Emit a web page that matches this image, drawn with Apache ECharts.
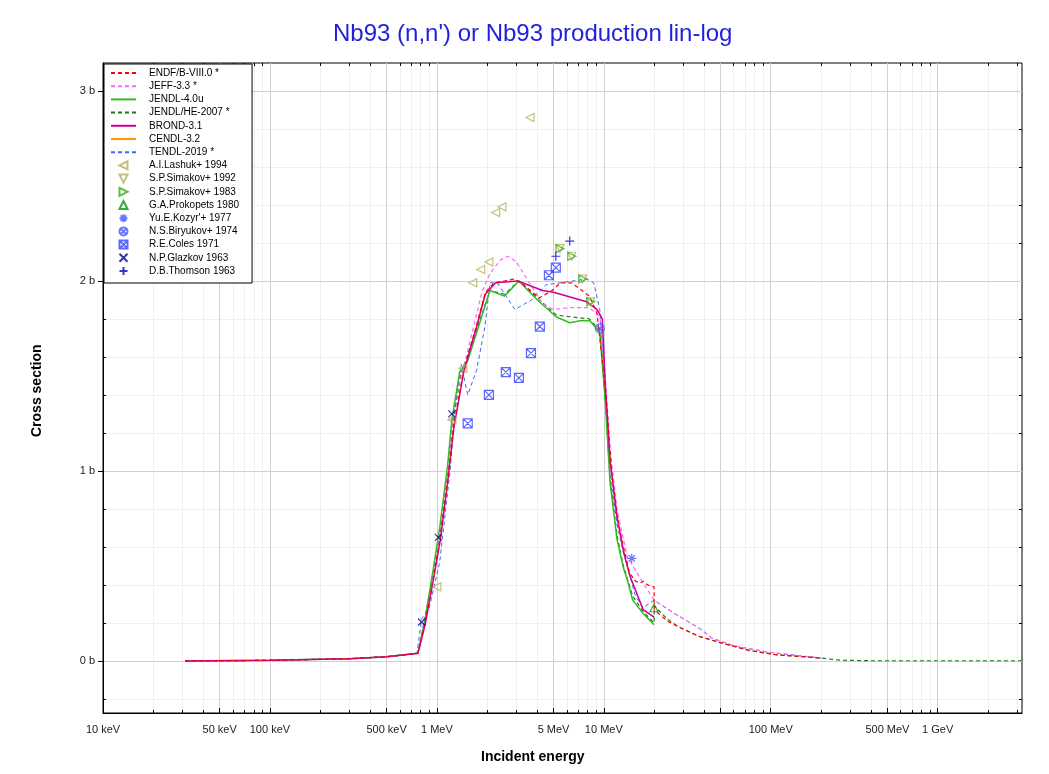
<!DOCTYPE html>
<html>
<head>
<meta charset="utf-8">
<title>Nb93 (n,n') or Nb93 production lin-log</title>
<script src="https://cdn.jsdelivr.net/npm/echarts@6/dist/echarts.min.js"></script>
<style>
  html, body { margin: 0; padding: 0; background: #fff; }
  #main { width: 1049px; height: 774px; }
</style>
</head>
<body>
<div id="main"></div>
<script>
// energies in MeV, cross sections in barn
const endf = [[0.031,0],[0.1,0.003],[0.3,0.012],[0.5,0.022],[0.77,0.04],[0.85,0.2],[0.95,0.43],[1.05,0.65],[1.16,0.95],[1.26,1.23],[1.44,1.52],[1.57,1.64],[1.72,1.76],[1.95,1.94],[2.2,1.99],[2.55,2.0],[2.9,2.01],[3.3,1.98],[4.1,1.91],[4.9,1.95],[5.5,1.99],[6.4,1.99],[7.4,1.95],[8.2,1.92],[9.1,1.83],[9.9,1.55],[10.5,1.3],[11.1,1.0],[12.0,0.76],[13.1,0.6],[14.3,0.46],[15.5,0.42],[16.5,0.41],[17.2,0.42],[18.3,0.4],[20,0.39],[20.05,0.27],[24,0.21],[28,0.18],[37,0.13],[50,0.097],[75,0.055],[110,0.032],[150,0.024],[200,0.015]];
const jeff = [[0.031,0],[0.1,0.003],[0.3,0.012],[0.5,0.022],[0.77,0.04],[0.85,0.24],[0.99,0.53],[1.16,1.0],[1.28,1.37],[1.47,1.57],[1.64,1.74],[1.86,1.94],[2.08,2.04],[2.4,2.11],[2.66,2.13],[3.0,2.1],[3.7,1.97],[4.3,1.88],[5.0,1.85],[6.5,1.86],[8.2,1.86],[9.5,1.81],[10.2,1.5],[10.9,1.12],[12.0,0.8],[13.8,0.55],[16.4,0.44],[20,0.32],[26.5,0.25],[37.6,0.17],[44.4,0.12],[60,0.08],[95,0.047],[140,0.03],[200,0.015]];
const jendl40 = [[0.031,0],[0.1,0.003],[0.3,0.012],[0.5,0.022],[0.77,0.04],[0.85,0.22],[0.95,0.48],[1.04,0.7],[1.16,1.03],[1.23,1.27],[1.37,1.52],[1.53,1.58],[2.08,1.95],[2.54,1.92],[3.1,2.0],[4.0,1.9],[5.2,1.81],[6.25,1.78],[7.2,1.79],[8.24,1.79],[9.46,1.73],[10.2,1.37],[10.9,0.94],[12.0,0.64],[13.1,0.49],[13.8,0.43],[14.9,0.32],[17.2,0.25],[20,0.19]];
const jendlHe = [[0.031,0],[0.1,0.003],[0.3,0.012],[0.5,0.022],[0.77,0.04],[0.85,0.21],[0.95,0.46],[1.05,0.68],[1.16,1.0],[1.25,1.26],[1.4,1.52],[1.55,1.62],[2.08,1.95],[2.54,1.93],[3.1,2.0],[5.2,1.82],[8.2,1.8],[9.46,1.74],[10.2,1.38],[10.9,0.96],[12.0,0.66],[13.1,0.5],[14.9,0.34],[17.2,0.26],[20,0.2],[20.05,0.29],[24,0.22],[28,0.18],[37,0.13],[50,0.095],[75,0.054],[110,0.031],[150,0.023],[200,0.015],[260,0.004],[400,0.001],[1000,0.001],[3200,0.001]];
const brond = [[0.031,0],[0.1,0.003],[0.3,0.012],[0.5,0.022],[0.77,0.04],[0.85,0.19],[0.95,0.42],[1.05,0.64],[1.16,0.94],[1.26,1.22],[1.44,1.51],[1.57,1.63],[1.72,1.75],[1.95,1.93],[2.25,1.99],[3.05,2.0],[4.3,1.95],[5.0,1.94],[7.9,1.89],[9.1,1.85],[9.8,1.8],[10.2,1.46],[10.9,1.06],[12.0,0.76],[13.1,0.58],[14.3,0.45],[17.2,0.27],[20,0.23]];
const cendl = [];
const tendl = [[0.031,0],[0.1,0.003],[0.3,0.012],[0.5,0.022],[0.76,0.04],[0.81,0.22],[0.9,0.28],[1.04,0.52],[1.2,1.0],[1.3,1.37],[1.4,1.56],[1.53,1.4],[1.73,1.53],[1.94,1.76],[2.08,1.99],[2.3,1.99],[2.93,1.85],[3.7,1.9],[4.5,1.98],[5.46,1.99],[7.9,2.01],[8.7,1.99],[9.46,1.85],[10.2,1.43],[10.9,1.0],[12.0,0.72],[13.1,0.57],[14.3,0.45],[15.5,0.34],[17.2,0.28],[20,0.32],[26.5,0.25],[37.6,0.17],[44.4,0.12],[60,0.08],[95,0.047],[140,0.03],[200,0.015]];

const lashuk1994 = [[1.0,0.39],[1.23,1.27],[1.43,1.54],[1.64,1.99],[1.83,2.06],[2.05,2.1],[2.25,2.36],[2.45,2.39],[3.61,2.86]];
const simakov1992 = [[5.46,2.17],[6.43,2.13],[7.48,2.01],[8.36,1.89]];
const simakov1983 = [[5.46,2.17],[6.43,2.13],[7.48,2.01],[8.36,1.89]];
const prokopets1980 = [[20,0.28]];
const kozyr1977 = [[14.7,0.54]];
const biryukov1974 = [[9.46,1.75]];
const coles1971 = [[1.53,1.25],[2.05,1.4],[2.59,1.52],[3.1,1.49],[3.66,1.62],[4.14,1.76],[4.69,2.03],[5.16,2.07]];
const glazkov1963 = [[0.81,0.205],[1.02,0.65],[1.23,1.3]];
const thomson1963 = [[5.16,2.13],[6.25,2.21]];

// axis ticks
const xLabelTicks = [0.01,0.05,0.1,0.5,1,5,10,100,500,1000];
const xMajorTicks = [0.01,0.05,0.1,0.5,1,5,10,50,100,500,1000];
const xMinorTicks = [];
[0.01,0.1,1,10,100,1000].forEach(d => {
  [2,3,4,6,7,8,9].forEach(m => {
    if (d * m <= 3200) xMinorTicks.push(+(d * m).toPrecision(3));
  });
});
const yMajorTicks = [0,1,2,3];
const yMinorTicks = [-0.2,0.2,0.4,0.6,0.8,1.2,1.4,1.6,1.8,2.2,2.4,2.6,2.8];

const X_MIN = 0.01, X_MAX = 3200, Y_MIN = -0.274, Y_MAX = 3.147;
const FONT = 'Liberation Sans, Arial, sans-serif';

function energyLabel(v) {
  if (v < 1) return Math.round(v * 1000) + ' keV';
  if (v < 1000) return Math.round(v) + ' MeV';
  return Math.round(v / 1000) + ' GeV';
}

function lineSeries(name, data, color, dashed, width) {
  return {
    name: name, type: 'line', data: data, symbol: 'none', showSymbol: false,
    lineStyle: { color: color, width: width, type: dashed ? [4, 3] : 'solid' },
    itemStyle: { color: color }, z: 3, animation: false
  };
}

function pointSeries(name, data, symbol, color, size) {
  return {
    name: name, type: 'scatter', data: data, symbol: symbol, symbolSize: size,
    itemStyle: { color: 'rgba(255,255,255,0)', borderColor: color, borderWidth: 1.2 },
    z: 4, animation: false
  };
}

// extra axes that only carry tick marks (frame ticks and minor grid)
function tickXAxis(pos, ticks, len, grid) {
  return {
    type: 'log', logBase: 10, min: X_MIN, max: X_MAX, position: pos,
    axisLine: { show: false, onZero: false },
    axisTick: { show: true, inside: true, length: len, customValues: ticks, lineStyle: { color: '#000' } },
    axisLabel: { show: false },
    splitLine: { show: grid, lineStyle: { color: '#efefef', width: 1 } },
    z: 0
  };
}
function tickYAxis(pos, ticks, len, grid) {
  return {
    type: 'value', min: Y_MIN, max: Y_MAX, position: pos,
    axisLine: { show: false, onZero: false },
    axisTick: { show: true, inside: true, length: len, customValues: ticks, lineStyle: { color: '#000' } },
    axisLabel: { show: false },
    splitLine: { show: grid, lineStyle: { color: '#efefef', width: 1 } },
    z: 0
  };
}

const SYM_LEFT = 'path://M0,5L10,0L10,10Z';
const SYM_DOWN = 'path://M0,0L10,0L5,10Z';
const SYM_RIGHT = 'path://M0,0L10,5L0,10Z';
const SYM_UP = 'path://M5,0L10,10L0,10Z';
const SYM_STAR = 'path://M5,0L5,10M0,5L10,5M1.5,1.5L8.5,8.5M8.5,1.5L1.5,8.5';
const SYM_OX = 'path://M10,5A5,5 0 1 1 0,5A5,5 0 1 1 10,5ZM1.5,1.5L8.5,8.5M8.5,1.5L1.5,8.5';
const SYM_SQX = 'path://M0,0L10,0L10,10L0,10ZM0,0L10,10M10,0L0,10';
const SYM_X = 'path://M0,0L10,10M10,0L0,10';
const SYM_PLUS = 'path://M5,0L5,10M0,5L10,5';

const lineNames = ['ENDF/B-VIII.0 *','JEFF-3.3 *','JENDL-4.0u','JENDL/HE-2007 *','BROND-3.1','CENDL-3.2','TENDL-2019 *'];
const pointNames = ['A.I.Lashuk+ 1994','S.P.Simakov+ 1992','S.P.Simakov+ 1983','G.A.Prokopets 1980',"Yu.E.Kozyr'+ 1977",
  'N.S.Biryukov+ 1974','R.E.Coles 1971','N.P.Glazkov 1963','D.B.Thomson 1963'];

const myChart = echarts.init(document.getElementById('main'), null, { renderer: 'canvas' });

const option = {
  backgroundColor: '#fff',
  animation: false,
  title: {
    text: "Nb93 (n,n') or Nb93 production lin-log",
    left: 333, top: 22, padding: 0,
    textStyle: { color: '#1f1fdd', fontSize: 24, fontWeight: 'normal', fontFamily: FONT }
  },
  grid: { left: 103, right: 27, top: 63, bottom: 61, show: true, borderColor: '#000', borderWidth: 1, backgroundColor: 'transparent' },
  legend: {
    orient: 'vertical', left: 104, top: 64,
    padding: [4, 13, 7, 6], itemWidth: 25, itemHeight: 8, itemGap: 3.2,
    backgroundColor: '#fff', borderColor: '#000', borderWidth: 1,
    textStyle: { fontSize: 10, lineHeight: 10, color: '#000', fontFamily: FONT, padding: [0, 0, 0, 8] },
    data: lineNames.map(n => ({ name: n, itemStyle: { opacity: 0 } })).concat(pointNames)
  },
  xAxis: [
    {
      type: 'log', logBase: 10, min: X_MIN, max: X_MAX,
      axisLine: { show: true, onZero: false, lineStyle: { color: '#000', width: 1 } },
      axisTick: { show: true, inside: true, length: 5, customValues: xMajorTicks, lineStyle: { color: '#000' } },
      axisLabel: { customValues: xLabelTicks, formatter: energyLabel, fontSize: 11, color: '#222', margin: 11, fontFamily: FONT },
      splitLine: { show: true, lineStyle: { color: '#d0d0d0', width: 1 } },
      z: 1
    },
    tickXAxis('bottom', xMinorTicks, 3, true),
    tickXAxis('top', xMajorTicks, 5, false),
    tickXAxis('top', xMinorTicks, 3, false)
  ],
  yAxis: [
    {
      type: 'value', min: Y_MIN, max: Y_MAX,
      axisLine: { show: true, onZero: false, lineStyle: { color: '#000', width: 1 } },
      axisTick: { show: true, inside: false, length: 5, customValues: yMajorTicks, lineStyle: { color: '#000' } },
      axisLabel: { customValues: yMajorTicks, formatter: v => v + ' b', fontSize: 11, color: '#222', margin: 8, fontFamily: FONT },
      splitLine: { show: true, lineStyle: { color: '#d0d0d0', width: 1 } },
      z: 1
    },
    tickYAxis('left', yMinorTicks, 3, true),
    tickYAxis('right', yMajorTicks, 5, false),
    tickYAxis('right', yMinorTicks, 3, false)
  ],
  graphic: [
    { type: 'text', left: 481, top: 750, style: { text: 'Incident energy', fontSize: 14, fontWeight: 'bold', fill: '#000', fontFamily: FONT } },
    { type: 'text', x: 30, y: 437, rotation: Math.PI / 2, style: { text: 'Cross section', fontSize: 14, fontWeight: 'bold', fill: '#000', fontFamily: FONT } }
  ],
  series: [
    lineSeries('CENDL-3.2', cendl, '#ff9900', false, 1.5),
    lineSeries('JENDL/HE-2007 *', jendlHe, '#1f7a1f', true, 1.2),
    lineSeries('TENDL-2019 *', tendl, '#3a6cf0', true, 1),
    lineSeries('JEFF-3.3 *', jeff, '#ff66ff', true, 1.2),
    lineSeries('JENDL-4.0u', jendl40, '#33bb22', false, 1.5),
    lineSeries('BROND-3.1', brond, '#cc0099', false, 1.5),
    lineSeries('ENDF/B-VIII.0 *', endf, '#ff0000', true, 1.2),
    pointSeries('A.I.Lashuk+ 1994', lashuk1994, SYM_LEFT, '#b5b05a', 8),
    pointSeries('S.P.Simakov+ 1992', simakov1992, SYM_DOWN, '#b5b05a', 8),
    pointSeries('S.P.Simakov+ 1983', simakov1983, SYM_RIGHT, '#33aa11', 8),
    pointSeries('G.A.Prokopets 1980', prokopets1980, SYM_UP, '#009900', 8),
    pointSeries("Yu.E.Kozyr'+ 1977", kozyr1977, SYM_STAR, '#4455ff', 9),
    pointSeries('N.S.Biryukov+ 1974', biryukov1974, SYM_OX, '#4455ff', 9),
    pointSeries('R.E.Coles 1971', coles1971, SYM_SQX, '#3344ff', 9),
    pointSeries('N.P.Glazkov 1963', glazkov1963, SYM_X, '#000099', 7),
    pointSeries('D.B.Thomson 1963', thomson1963, SYM_PLUS, '#0000cc', 9)
  ]
};

myChart.setOption(option);
</script>
</body>
</html>
